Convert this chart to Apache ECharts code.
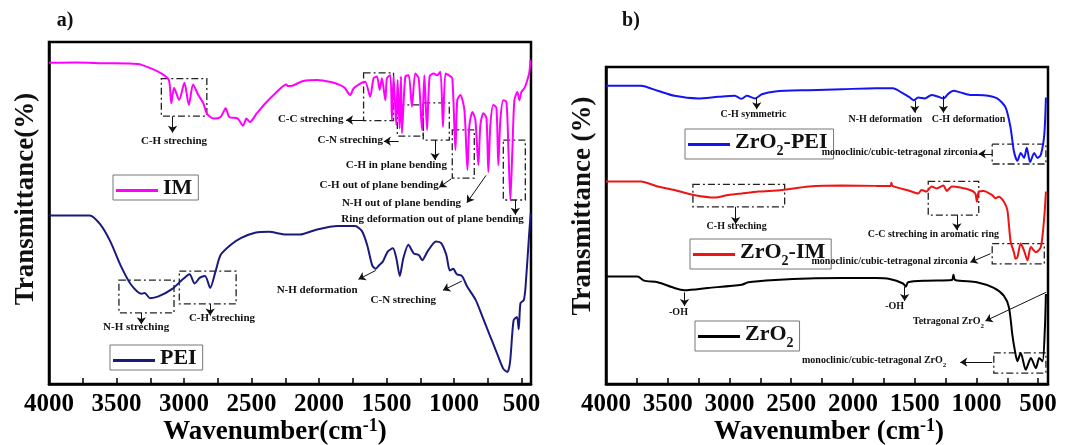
<!DOCTYPE html>
<html><head><meta charset="utf-8">
<script src="https://cdn.jsdelivr.net/npm/echarts@6/dist/echarts.min.js"></script>
<style>html,body{margin:0;padding:0;background:#fff}#c{width:1067px;height:445px}</style>
</head><body><div id="c"></div>
<script>
const FONT = '"Liberation Serif","Times New Roman",serif';

// x tick labels and tick marks (cm-1)
const xLabels = [4000,3500,3000,2500,2000,1500,1000,500];
const xTickMarks = [4000,3750,3500,3250,3000,2750,2500,2250,2000,1750,1500,1250,1000,750,500];

// ---- panel a: [wavenumber, transmittance (arb.)]
const IM = [[4000,93.9],[3800,94],[3600,93.8],[3342,93.6],[3240,92.2],[3163,90.7],[3112,88.9],[3094,82.1],[3074,86.6],[3036,83.1],[2997,88.1],[2964,81.6],[2933,87.6],[2895,84.6],[2857,82.1],[2831,79.1],[2780,77.6],[2729,78.1],[2691,80.6],[2665,78.1],[2602,77.6],[2563,75.5],[2538,77.6],[2512,76.6],[2461,79.1],[2397,82.1],[2321,85.1],[2244,87.6],[2231,87.1],[2193,87.3],[2116,88.6],[2014,88.9],[1912,88.3],[1843,87.4],[1810,86.6],[1769,84.5],[1744,86.4],[1682,88.1],[1658,88.4],[1621,84.0],[1596,89.4],[1571,89.9],[1551,86.0],[1534,89.4],[1509,83.0],[1497,89.4],[1472,90.3],[1460,77.2],[1448,89.9],[1428,75.7],[1418,88.9],[1403,74.7],[1393,89.9],[1386,73.3],[1361,89.9],[1336,90.3],[1312,81.1],[1287,90.8],[1262,89.4],[1237,74.3],[1220,90.3],[1200,74.3],[1181,89.9],[1151,90.8],[1126,90.3],[1101,91.3],[1082,75.2],[1064,90.8],[1040,90.3],[1013,89.4],[990,68.4],[976,83],[953,84.5],[923,80],[901,62.6],[886,75.7],[864,79.5],[842,77.2],[820,64],[805,75.7],[783,79.2],[760,77.8],[746,62],[731,75.7],[709,81.6],[686,80.7],[672,64],[657,77.2],[635,83],[612,82.5],[597,68.4],[583,53.8],[568,68.4],[553,83],[531,85.4],[516,83],[501,85.4],[479,86.5],[457,88.9],[442,91.2],[434,94.7]];
const PEI = [[4000,49.3],[3850,49.3],[3699,49.3],[3623,46.8],[3546,41.7],[3470,34.7],[3393,29.1],[3316,26.4],[3291,26.6],[3252,25.1],[3189,25.6],[3087,27.8],[3010,30.6],[2959,32.1],[2921,29.4],[2882,31.1],[2844,31.6],[2806,28.1],[2768,32.7],[2729,37.7],[2653,40.7],[2576,42.7],[2474,44.2],[2372,44.5],[2244,43.7],[2142,43.7],[2014,45.2],[1861,46.2],[1733,46.2],[1682,44.7],[1644,40.7],[1606,34.7],[1580,33.7],[1555,34.7],[1529,35.7],[1491,38.7],[1453,39.7],[1427,36.7],[1402,31.6],[1376,36.7],[1338,40.7],[1299,38.2],[1261,37.7],[1236,36.2],[1197,38.7],[1134,41.7],[1095,41.2],[1057,37.7],[1031,33.2],[1006,33.7],[980,32.1],[942,31.6],[904,28.6],[840,24.6],[789,19.6],[738,14.5],[687,9.5],[636,4.5],[605,3.5],[585,6.5],[559,18.6],[534,19.6],[521,16.0],[508,23.6],[483,24.6],[470,28.6],[444,43.7],[432,49.8]];

// ---- panel b
const ZRO2_PEI = [[4000,94.1],[3718,94.1],[3582,92.5],[3446,90.9],[3255,90.1],[3092,90.6],[2956,90.9],[2920,90.2],[2901,90.0],[2860,90.9],[2792,90.1],[2738,91.4],[2629,92.3],[2357,92.7],[2084,93.0],[1812,93.3],[1676,93.3],[1608,92.0],[1540,90.4],[1507,89.5],[1472,90.4],[1417,90.1],[1363,91.2],[1308,90.6],[1267,90.1],[1226,91.6],[1186,92.5],[1131,92.0],[1050,91.2],[941,91.1],[832,90.1],[763,87.2],[723,80.8],[696,73.4],[668,70.4],[641,72.9],[614,71.3],[592,74.5],[565,70.0],[532,72.9],[505,71.3],[478,72.3],[450,78.7],[437,90.4]];
const ZRO2_IM = [[4000,63.9],[3718,63.9],[3582,62.3],[3446,61.2],[3310,59.8],[3119,58.8],[3010,59.6],[2901,60.1],[2765,60.7],[2575,61.2],[2357,62.3],[2084,62.6],[1812,62.5],[1695,62.5],[1689,63.5],[1680,62.5],[1540,60.9],[1472,60.1],[1444,61.2],[1404,60.7],[1363,62.3],[1322,61.7],[1267,62.6],[1240,60.9],[1199,62.3],[1131,62.0],[1050,61.2],[1009,60.1],[996,57.5],[981,60.7],[941,60.9],[872,59.6],[845,58.6],[818,59.1],[777,57.5],[750,55],[736,50],[723,45],[696,41.5],[682,39.5],[668,40.0],[641,44.3],[614,42.1],[586,39.0],[559,43.2],[518,41.6],[478,43.2],[450,52.7],[437,60.7]];
const ZRO2 = [[4000,33.9],[3745,33.9],[3691,32.6],[3582,32.1],[3446,30.3],[3364,29.6],[3174,30.3],[2901,31.3],[2847,32.1],[2629,32.8],[2357,33.3],[2084,33.4],[1812,33.4],[1703,33.1],[1594,31.7],[1572,30.7],[1553,32.1],[1403,32.6],[1199,32.8],[1186,34.5],[1172,32.8],[996,32.1],[859,30.3],[777,27.8],[736,24.1],[709,15.6],[687,10.3],[668,7.2],[641,9.8],[600,4.5],[559,8.2],[518,5.0],[491,8.2],[464,7.2],[445,17.8],[437,28.4]];

// ---- annotations (data coordinates)
const textA = [[3074,70.5,'C-H streching'],[2062,77,'C-C streching'],[1769,70.8,'C-N streching'],[1427,63.5,'C-H in plane bending'],[1555,57.7,'C-H out of plane bending'],[1389,52.5,'N-H out of plane bending'],[1159,47.8,'Ring deformation out of plane bending'],[3355,16.3,'N-H streching'],[2719,18.9,'C-H streching'],[2014,27.1,'N-H deformation'],[1376,24.1,'C-N streching']];
const arrowA = [[3085,78.3,3085,73.5],[1670,77.2,1800,77.2],[1410,71,1520,71],[1141,71.3,1141,65.5],[1020,60,1110,57.5],[763,61,905,53],[546,53.8,546,49.5],[3316,20.8,3316,17.5],[2806,23.4,2806,20],[1580,33.2,1708,30.6],[942,30.1,1082,27.4]];
const boxA = [[3168,89.3,2831,78.3],[1670,91,1448,77],[1420,81.6,1228,72.5],[1228,82.2,1035,71.3],[1013,74.3,850,60.2],[635,71.3,472,53.8],[3482,30.4,3074,20.8],[3035,33,2614,23.4]];

const textB = [[2806,84.5,'C-H symmetric'],[1738,82.9,'N-H deformation'],[1063,82.9,'C-H deformation'],[1621,72.6,'monoclinic/cubic-tetragonal zirconia'],[2942,49.3,'C-H streching'],[1349,46.6,'C-C streching in aromatic ring'],[1703,38.1,'monoclinic/cubic-tetragonal zirconia'],[3413,22,'-OH'],[1662,24.1,'-OH'],[1226,19.3,'Tetragonal ZrO2'],[1828,6.9,'monoclinic/cubic-tetragonal ZrO2']];
const arrowB = [[2779,90.4,2779,86.7],[1499,89.3,1499,85.6],[1267,90.9,1267,85.6],[872,72.6,981,72.6],[2950,55.9,2950,50.5],[1158,53.3,1158,48.5],[886,41.1,1049,38.4],[3364,28.9,3364,24.6],[1581,30.7,1581,26.2],[437,28.9,927,19.9],[872,6.9,1131,6.9]];
const boxB = [[872,75.7,437,69.4],[3296,63,2553,55.9],[1390,63.9,981,53.3],[872,44.3,450,37.9],[859,9.8,437,3.4]];

const chart = echarts.init(document.getElementById('c'));

// wrap text in rich tokens, with "ZrO2" given a subscript 2
function subFmt(s) {
  return s.split('ZrO2').map(p => p ? '{n|' + p + '}' : '').join('{n|ZrO}{s|2}');
}

function markers(texts, arrows, boxes, fs) {
  return {
    markPoint: {
      silent: true, symbol: 'circle', symbolSize: 1,
      itemStyle: {color: 'rgba(0,0,0,0)'},
      label: {show: true, position: 'inside', color: '#111', fontFamily: FONT, fontWeight: 'bold', fontSize: fs,
        formatter: p => subFmt(p.name),
        rich: {
          n: {fontFamily: FONT, fontWeight: 'bold', fontSize: fs, color: '#111', verticalAlign: 'bottom', padding: [0, 0, 3, 0]},
          s: {fontFamily: FONT, fontWeight: 'bold', fontSize: fs - 3, color: '#111', verticalAlign: 'bottom'}
        }},
      data: texts.map(t => ({coord: [t[0], t[1]], name: t[2]}))
    },
    markLine: {
      silent: true, symbol: ['none', 'arrow'], symbolSize: 7, label: {show: false},
      lineStyle: {color: '#111', width: 1, type: 'solid'},
      data: arrows.map(a => [{coord: [a[0], a[1]]}, {coord: [a[2], a[3]]}])
    },
    markArea: {
      silent: true,
      itemStyle: {color: 'rgba(0,0,0,0)', borderColor: '#222', borderWidth: 1.3, borderType: [7, 3, 2, 3]},
      data: boxes.map(b => [{coord: [b[0], b[1]]}, {coord: [b[2], b[3]]}])
    }
  };
}

function xAxisOf(gi, min) {
  return {
    type: 'value', gridIndex: gi, min: min, max: 4000, inverse: true,
    axisLine: {show: true, lineStyle: {color: '#000', width: 2.5}},
    axisTick: {show: true, inside: true, length: 6, customValues: xTickMarks, lineStyle: {color: '#000', width: 1.5}},
    axisLabel: {show: true, customValues: xLabels, margin: 8, color: '#000', fontFamily: FONT, fontWeight: 'bold', fontSize: 25,
      formatter: v => String(v)},
    splitLine: {show: false}
  };
}
function yAxisOf(gi) {
  return {
    type: 'value', gridIndex: gi, min: 0, max: 100,
    axisLine: {show: true, lineStyle: {color: '#000', width: 2.5}},
    axisTick: {show: false}, axisLabel: {show: false}, splitLine: {show: false}
  };
}
function lineSeries(name, data, color, xi, extra) {
  return Object.assign({
    name: name, type: 'line', xAxisIndex: xi, yAxisIndex: xi, data: data,
    showSymbol: false, symbol: 'none', smooth: 0.25, clip: true,
    lineStyle: {color: color, width: 2}, itemStyle: {color: color}
  }, extra || {});
}

const legendBase = {
  orient: 'horizontal', itemWidth: 42, itemHeight: 3, icon: 'rect', itemGap: 0,
  borderColor: '#777', borderWidth: 1, padding: [2, 6, 1, 3], selectedMode: false,
  textStyle: {fontFamily: FONT, fontWeight: 'bold', fontSize: 22, color: '#111',
    rich: {n: {fontFamily: FONT, fontWeight: 'bold', fontSize: 22, color: '#111', verticalAlign: 'bottom', padding: [0, 0, 5, 0]},
           s: {fontFamily: FONT, fontWeight: 'bold', fontSize: 14, color: '#111', verticalAlign: 'bottom'}}},
  formatter: n => subFmt(n)
};
function lg(name, left, top) { return Object.assign({}, legendBase, {data: [name], left: left, top: top}); }

const supRich = {
  t: {fontFamily: FONT, fontWeight: 'bold', fontSize: 27, color: '#111', lineHeight: 30},
  sup: {fontFamily: FONT, fontWeight: 'bold', fontSize: 18, color: '#111', verticalAlign: 'top', lineHeight: 10}
};

chart.setOption({
  animation: false,
  backgroundColor: '#fff',
  grid: [
    {left: 49, top: 42, width: 482, height: 342, show: true, borderColor: '#000', borderWidth: 2.5, backgroundColor: 'transparent'},
    {left: 606, top: 67, width: 442, height: 317, show: true, borderColor: '#000', borderWidth: 2.5, backgroundColor: 'transparent'}
  ],
  xAxis: [xAxisOf(0, 430), xAxisOf(1, 420)],
  yAxis: [yAxisOf(0), yAxisOf(1)],
  legend: [lg('IM', 113, 175), lg('PEI', 110, 345), lg('ZrO2-PEI', 685, 129), lg('ZrO2-IM', 690, 239), lg('ZrO2', 695, 321)],
  series: [
    lineSeries('IM', IM, '#ff00ff', 0, markers(textA, arrowA, boxA, 11)),
    lineSeries('PEI', PEI, '#1a1a7e', 0),
    lineSeries('ZrO2-PEI', ZRO2_PEI, '#1414f0', 1),
    lineSeries('ZrO2-IM', ZRO2_IM, '#ee1414', 1),
    lineSeries('ZrO2', ZRO2, '#000000', 1, markers(textB, arrowB, boxB, 10))
  ],
  graphic: [
    {type: 'text', x: 65, y: 21, style: {text: 'a)', font: 'bold 20px ' + FONT, fill: '#111', align: 'center', verticalAlign: 'middle'}},
    {type: 'text', x: 631, y: 21, style: {text: 'b)', font: 'bold 20px ' + FONT, fill: '#111', align: 'center', verticalAlign: 'middle'}},
    {type: 'text', x: 26, y: 199, rotation: Math.PI / 2, style: {text: 'Transmittance(%)', font: 'bold 27px ' + FONT, fill: '#111', align: 'center', verticalAlign: 'middle'}},
    {type: 'text', x: 583, y: 206, rotation: Math.PI / 2, style: {text: 'Transmittance (%)', font: 'bold 27px ' + FONT, fill: '#111', align: 'center', verticalAlign: 'middle'}},
    {type: 'text', x: 275, y: 432, style: {text: '{t|Wavenumber(cm}{sup|-1}{t|)}', rich: supRich, align: 'center', verticalAlign: 'middle'}},
    {type: 'text', x: 829, y: 432, style: {text: '{t|Wavenumber (cm}{sup|-1}{t|)}', rich: supRich, align: 'center', verticalAlign: 'middle'}}
  ]
});
</script></body></html>
